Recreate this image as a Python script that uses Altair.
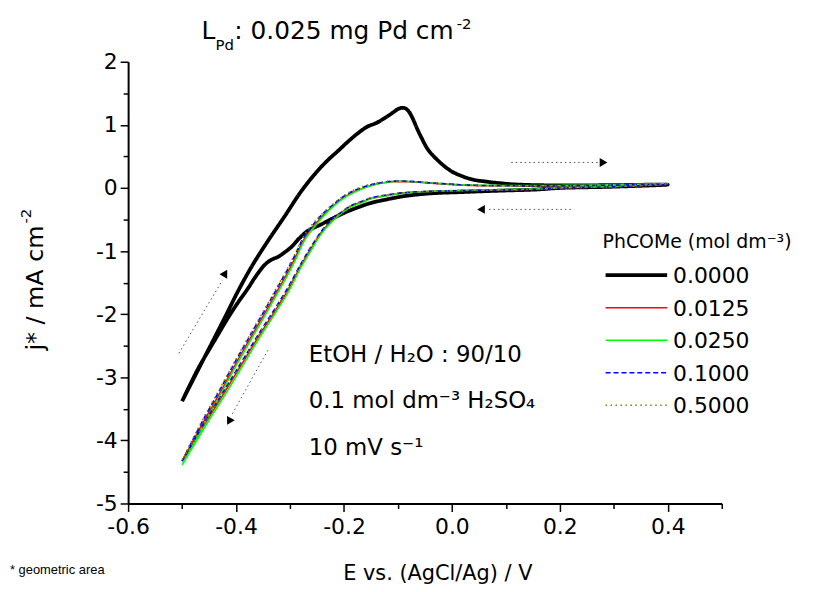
import altair as alt
import pandas as pd

FONT = "DejaVu Sans"

# ---- series identity ----
LABELS = ["0.0000", "0.0125", "0.0250", "0.1000", "0.5000"]
COLORS = ["#000000", "#ff0000", "#00ff00", "#0000ff", "#808000"]
DASHES = [[1, 0], [1, 0], [1, 0], [5, 3], [1.5, 3.5]]
WIDTHS = [3.8, 1.6, 1.6, 1.6, 1.6]

# ---- 0.0000 (black) cyclic voltammogram ----
E_BLACK_FWD = [-0.5, -0.46, -0.42, -0.396, -0.37, -0.341, -0.31, -0.279, -0.25, -0.23,
               -0.212, -0.181, -0.157, -0.14, -0.126, -0.11, -0.1, -0.093, -0.086, -0.079,
               -0.072, -0.065, -0.056, -0.046, -0.038, -0.03, -0.016, 0.0, 0.021, 0.04,
               0.064, 0.09, 0.119, 0.2, 0.3, 0.4]
J_BLACK_FWD = [-3.38, -2.71, -2.04, -1.63, -1.23, -0.84, -0.45, -0.05, 0.26, 0.44,
               0.58, 0.82, 0.97, 1.03, 1.10, 1.19, 1.25, 1.27, 1.26, 1.20,
               1.09, 0.95, 0.79, 0.63, 0.54, 0.47, 0.36, 0.26, 0.18, 0.13,
               0.10, 0.075, 0.055, 0.04, 0.045, 0.053]
E_BLACK_REV = [0.3, 0.2, 0.156, 0.1, 0.064, 0.02, -0.028, -0.06, -0.089, -0.12,
               -0.151, -0.175, -0.193, -0.206, -0.225, -0.243, -0.267, -0.283, -0.298, -0.31,
               -0.322, -0.335, -0.347, -0.365, -0.377, -0.4, -0.42, -0.44, -0.47, -0.5]
J_BLACK_REV = [0.02, 0.0, -0.025, -0.04, -0.05, -0.065, -0.08, -0.1, -0.13, -0.18,
               -0.24, -0.31, -0.37, -0.42, -0.5, -0.58, -0.68, -0.8, -0.94, -1.02,
               -1.09, -1.14, -1.22, -1.42, -1.58, -1.86, -2.13, -2.42, -2.86, -3.38]

# ---- PhCOMe-containing solutions: shared potentials ----
E_FWD = [-0.5, -0.463, -0.43, -0.402, -0.37, -0.341, -0.322, -0.305, -0.291, -0.273,
         -0.255, -0.237, -0.218, -0.2, -0.181, -0.163, -0.14, -0.12, -0.101, -0.07,
         -0.03, 0.033, 0.1, 0.2, 0.3, 0.4]
E_REV = [0.3, 0.2, 0.156, 0.1, 0.033, -0.028, -0.089, -0.12, -0.151, -0.163,
         -0.187, -0.206, -0.224, -0.243, -0.261, -0.279, -0.304, -0.33, -0.36, -0.39,
         -0.42, -0.46, -0.5]

J_0125_FWD = [-4.33, -3.75, -3.25, -2.81, -2.33, -1.90, -1.61, -1.35, -1.12, -0.80,
              -0.60, -0.42, -0.27, -0.15, -0.06, 0.0, 0.06, 0.09, 0.10, 0.095,
              0.07, 0.04, 0.035, 0.035, 0.045, 0.06]
J_0125_REV = [0.02, 0.0, -0.02, -0.03, -0.04, -0.05, -0.08, -0.12, -0.17, -0.21,
              -0.29, -0.40, -0.53, -0.72, -0.96, -1.22, -1.62, -1.98, -2.38, -2.80,
              -3.22, -3.77, -4.33]

J_0250_FWD = [-4.39, -3.80, -3.29, -2.85, -2.37, -1.94, -1.65, -1.39, -1.16, -0.83,
              -0.62, -0.44, -0.28, -0.16, -0.07, 0.0, 0.06, 0.09, 0.105, 0.10,
              0.075, 0.045, 0.04, 0.04, 0.05, 0.065]
J_0250_REV = [0.025, 0.005, -0.015, -0.025, -0.035, -0.05, -0.08, -0.12, -0.17, -0.22,
              -0.30, -0.41, -0.55, -0.74, -0.99, -1.25, -1.66, -2.02, -2.42, -2.85,
              -3.27, -3.82, -4.39]

J_1000_FWD = [-4.33, -3.71, -3.20, -2.76, -2.28, -1.85, -1.56, -1.30, -1.07, -0.76,
              -0.56, -0.39, -0.25, -0.13, -0.04, 0.02, 0.07, 0.10, 0.11, 0.10,
              0.075, 0.045, 0.035, 0.035, 0.045, 0.06]
J_1000_REV = [0.02, 0.0, -0.02, -0.03, -0.04, -0.05, -0.075, -0.11, -0.16, -0.20,
              -0.28, -0.39, -0.51, -0.70, -0.93, -1.19, -1.58, -1.94, -2.34, -2.76,
              -3.18, -3.74, -4.33]

J_5000_FWD = [-4.31, -3.69, -3.18, -2.74, -2.26, -1.83, -1.54, -1.28, -1.05, -0.74,
              -0.54, -0.38, -0.24, -0.12, -0.03, 0.03, 0.08, 0.10, 0.11, 0.10,
              0.075, 0.045, 0.035, 0.035, 0.045, 0.06]
J_5000_REV = [0.02, 0.0, -0.02, -0.03, -0.04, -0.05, -0.075, -0.11, -0.16, -0.20,
              -0.28, -0.39, -0.52, -0.71, -0.94, -1.20, -1.60, -1.96, -2.36, -2.78,
              -3.20, -3.75, -4.31]

# ---- scan-direction arrows (data coordinates) ----
ARROW_LINES = [  # (id, E start, j start, E end, j end)
    ("a1", 0.110, 0.404, 0.272, 0.404),
    ("a2", 0.2205, -0.34, 0.064, -0.34),
    ("a3", -0.506, -2.62, -0.425, -1.46),
    ("a4", -0.341, -2.57, -0.407, -3.58),
]
ARROW_HEADS = [  # (E, j, shape, angle)
    (0.281, 0.404, "triangle-right", 0),
    (0.054, -0.34, "triangle-left", 0),
    (-0.420, -1.35, "triangle-up", 30),
    (-0.413, -3.70, "triangle-down", 29),
]

# ---- build tables ----
rows = []


def add(label, es, js):
    assert len(es) == len(js), label
    for i, (e, j) in enumerate(zip(es, js)):
        rows.append({"conc": label, "E": e, "j": j, "idx": i})


add("0.0000", E_BLACK_FWD + E_BLACK_REV, J_BLACK_FWD + J_BLACK_REV)
add("0.0125", E_FWD + E_REV, J_0125_FWD + J_0125_REV)
add("0.0250", E_FWD + E_REV, J_0250_FWD + J_0250_REV)
add("0.1000", E_FWD + E_REV, J_1000_FWD + J_1000_REV)
add("0.5000", E_FWD + E_REV, J_5000_FWD + J_5000_REV)
df = pd.DataFrame(rows)

arrow_rows = []
for aid, e1, j1, e2, j2 in ARROW_LINES:
    arrow_rows.append({"aid": aid, "E": e1, "j": j1, "k": 0})
    arrow_rows.append({"aid": aid, "E": e2, "j": j2, "k": 1})
arrow_df = pd.DataFrame(arrow_rows)
head_df = pd.DataFrame(ARROW_HEADS, columns=["E", "j", "shape", "angle"])

legend_df = pd.DataFrame({"conc": LABELS, "row": list(range(len(LABELS)))})

# ---- scales & axes ----
x_scale = alt.Scale(domain=[-0.6, 0.5], nice=False, zero=False)
y_scale = alt.Scale(domain=[-5, 2], nice=False, zero=False)
color_scale = alt.Scale(type="ordinal", domain=LABELS, range=COLORS)
dash_scale = alt.Scale(type="ordinal", domain=LABELS, range=DASHES)
width_scale = alt.Scale(type="ordinal", domain=LABELS, range=WIDTHS)

X_TICKS = [-0.6, -0.5, -0.4, -0.3, -0.2, -0.1, 0.0, 0.1, 0.2, 0.3, 0.4, 0.5]
Y_TICKS = [-5, -4.5, -4, -3.5, -3, -2.5, -2, -1.5, -1, -0.5, 0, 0.5, 1, 1.5, 2]

x_major = "abs(round(datum.value*10)) % 2 == 0"
y_major = "datum.value % 1 == 0"

common_axis = dict(
    grid=False, title=None, domainColor="black", domainWidth=2,
    tickColor="black", tickWidth=1.5, labelFont=FONT, labelFontSize=22,
    labelColor="black", labelFlush=False, labelOverlap=False,
)
x_axis = alt.Axis(
    values=X_TICKS,
    labelExpr=f"{x_major} ? replace(format(datum.value, '.1f'), '\u2212', '-') : ''",
    tickSize={"condition": {"test": x_major, "value": 8}, "value": 5},
    labelPadding=5,
    **common_axis,
)
y_axis = alt.Axis(
    values=Y_TICKS,
    labelExpr=f"{y_major} ? replace(format(datum.value, 'd'), '\u2212', '-') : ''",
    tickSize={"condition": {"test": y_major, "value": 8}, "value": 5},
    labelPadding=3,
    **common_axis,
)

X = alt.X("E:Q", scale=x_scale, axis=x_axis)
Y = alt.Y("j:Q", scale=y_scale, axis=y_axis)

lines = alt.Chart(df).mark_line(
    strokeJoin="round", strokeCap="butt", interpolate="catmull-rom"
).encode(
    x=X,
    y=Y,
    color=alt.Color("conc:N", scale=color_scale, legend=None),
    strokeDash=alt.StrokeDash("conc:N", scale=dash_scale, legend=None),
    strokeWidth=alt.StrokeWidth("conc:N", scale=width_scale, legend=None),
    order=alt.Order("idx:Q"),
)

arrow_lines = alt.Chart(arrow_df).mark_line(
    color="#555555", strokeWidth=1, strokeDash=[1.5, 3]
).encode(x=X, y=Y, detail="aid:N", order=alt.Order("k:Q"))

arrow_heads = alt.Chart(head_df).mark_point(
    filled=True, color="black", opacity=1, size=80
).encode(
    x=X, y=Y,
    shape=alt.Shape("shape:N", scale=None),
    angle=alt.Angle("angle:Q", scale=None),
)

data_layer = alt.layer(lines, arrow_lines, arrow_heads)

# ---- legend (drawn from the series table through the same scales) ----
LEG_Y = alt.Y("row:O", axis=None,
              scale=alt.Scale(type="point", domain=list(range(len(LABELS))),
                              range=[215, 346], padding=0))
leg_lines = alt.Chart(legend_df).mark_rule(strokeCap="butt").encode(
    x=alt.value(481), x2=alt.value(543), y=LEG_Y,
    color=alt.Color("conc:N", scale=color_scale, legend=None),
    strokeDash=alt.StrokeDash("conc:N", scale=dash_scale, legend=None),
    strokeWidth=alt.StrokeWidth("conc:N", scale=width_scale, legend=None),
)
leg_text = alt.Chart(legend_df).mark_text(
    align="left", baseline="middle", font=FONT, fontSize=22, color="black", dy=1
).encode(x=alt.value(549), y=LEG_Y, text="conc:N")
legend_layer = alt.layer(leg_lines, leg_text)


# ---- free text ----
def txt(s, x, y, size, font=FONT, align="left", angle=None):
    kw = dict(text=s, fontSize=size, font=font, align=align,
              baseline="alphabetic", color="black")
    if angle is not None:
        kw["angle"] = angle
    return alt.Chart(alt.Data(values=[{"a": 1}])).mark_text(**kw).encode(
        x=alt.value(x), y=alt.value(y))


texts = [
    txt("L", 74, -23, 25),
    txt("Pd", 88, -12, 15),
    txt(": 0.025 mg Pd cm", 107, -23, 25),
    txt("-2", 331, -33, 15),
    txt("j* / mA cm", -86, 165, 24, align="right", angle=270),
    txt("-2", -98, 163, 15, align="left", angle=270),
    txt("E vs. (AgCl/Ag) / V", 312, 522, 21, align="center"),
    txt("* geometric area", -119, 516, 13, font="Liberation Sans"),
    txt("EtOH / H\u2082O : 90/10", 182, 302, 23),
    txt("0.1 mol dm\u207b\u00b3 H\u2082SO\u2084", 182, 349, 23),
    txt("10 mV s\u207b\u00b9", 182, 396, 23),
    txt("PhCOMe (mol dm\u207b\u00b3)", 478, 188, 19),
]

chart = alt.layer(data_layer, legend_layer, *texts).resolve_scale(
    y="independent"
).properties(
    width=598, height=445,
    autosize=alt.AutoSizeParams(type="none"),
    padding={"left": 121, "top": 52, "right": 100, "bottom": 84},
    background="white",
).configure_view(stroke=None)

chart.save("out.html", embed_options={"renderer": "svg", "actions": False})
